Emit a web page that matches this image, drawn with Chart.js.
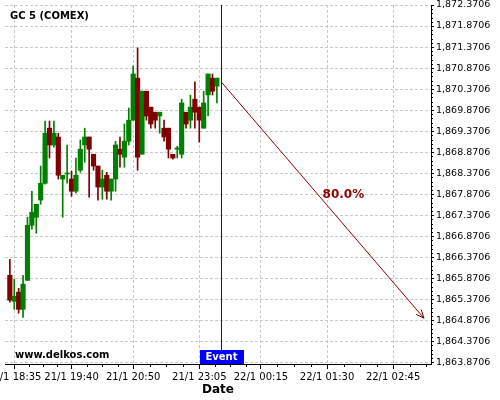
<!DOCTYPE html>
<html lang="en">
<head>
<meta charset="UTF-8">
<title>GC 5 (COMEX)</title>
<script src="https://cdn.jsdelivr.net/npm/chart.js"></script>
<style>
  html, body { margin: 0; padding: 0; background: #fff; }
</style>
</head>
<body>
<canvas id="graphique" width="500" height="400"></canvas>
<script>
// 5 min candles, index 0 = 21/1 18:30
const opens  = [1865.94,1865.32,1865.54,1865.13,1865.82,1867.13,1867.32,1867.73,1868.13,1869.44,1869.04,1869.23,1868.23,1868.35,1868.23,1867.94,1868.44,1869.04,1869.23,1868.82,1868.54,1868.04,1868.32,1867.94,1868.23,1868.94,1868.75,1869.13,1869.63,1870.63,1868.82,1870.32,1869.94,1869.82,1869.73,1869.44,1869.44,1868.82,1868.94,1868.82,1869.82,1869.63,1870.13,1869.94,1869.44,1870.23,1870.63,1870.44];
const highs  = [1866.32,1865.85,1865.63,1865.94,1867.32,1867.94,1867.63,1868.54,1869.61,1869.61,1869.61,1869.32,1868.32,1869.04,1868.42,1868.73,1869.16,1869.44,1869.23,1868.82,1868.54,1868.44,1868.39,1868.23,1869.13,1869.23,1869.54,1869.92,1870.92,1871.35,1870.32,1870.32,1869.94,1869.82,1869.82,1869.63,1869.44,1868.82,1869.01,1870.13,1869.82,1870.23,1870.54,1869.94,1870.32,1870.73,1870.73,1870.63];
const lows   = [1865.30,1865.13,1865.04,1864.94,1865.82,1867.04,1866.94,1867.63,1868.11,1868.73,1868.99,1868.23,1867.32,1868.13,1867.82,1867.90,1868.39,1868.63,1867.80,1868.44,1867.73,1867.75,1867.75,1867.73,1867.94,1868.51,1868.51,1869.04,1869.63,1868.44,1868.82,1869.63,1869.44,1869.44,1869.32,1869.13,1868.73,1868.70,1868.73,1868.73,1869.44,1869.44,1869.44,1869.11,1869.44,1869.73,1870.23,1870.04];
const closes = [1865.35,1865.44,1865.13,1865.73,1867.13,1867.44,1867.63,1868.13,1869.32,1869.04,1869.32,1868.32,1868.32,1868.37,1867.94,1868.32,1868.94,1869.23,1868.94,1868.54,1868.04,1868.23,1867.94,1868.23,1869.04,1868.82,1869.13,1869.63,1870.73,1868.75,1870.32,1869.73,1869.54,1869.63,1869.82,1869.23,1868.94,1868.73,1868.97,1870.04,1869.54,1869.94,1869.82,1869.63,1870.04,1870.73,1870.32,1870.63];

const xTickIdx    = [1, 14, 28, 43, 57, 72, 87];
const xTickLabels = ['21/1 18:35', '21/1 19:40', '21/1 20:50', '21/1 23:05', '22/1 00:15', '22/1 01:30', '22/1 02:45'];
const yTicks = [1863.8706,1864.3706,1864.8706,1865.3706,1865.8706,1866.3706,1866.8706,1867.3706,1867.8706,1868.3706,1868.8706,1869.3706,1869.8706,1870.3706,1870.8706,1871.3706,1871.8706,1872.3706];

const eventIdx = 48;
const forecast = [{x: 48, y: 1870.54}, {x: 94, y: 1864.92}];
const forecastLabel = '80.0%';

const UP = '#008000', DOWN = '#800000', ARROW = '#8b0000';
const colors = opens.map((o, i) => closes[i] >= o ? UP : DOWN);

Chart.defaults.font.family = 'DejaVu Sans';

const extras = {
    id: 'extras',
    afterDraw(chart) {
        const { ctx, chartArea: a, scales: { x, y } } = chart;
        ctx.save();
        ctx.strokeStyle = '#000';
        ctx.lineWidth = 1;
        ctx.beginPath();
        // minor ticks, y axis
        for (let k = 0; k < yTicks.length - 1; k++) {
            for (let m = 1; m < 5; m++) {
                const py = Math.round(y.getPixelForValue(yTicks[k] + m * 0.1)) + 0.5;
                ctx.moveTo(a.right, py);
                ctx.lineTo(a.right + 2, py);
            }
        }
        // minor ticks, x axis
        const minors = [];
        for (let k = 0; k < xTickIdx.length - 1; k++) {
            const step = (xTickIdx[k + 1] - xTickIdx[k]) / 4;
            for (let m = 1; m < 4; m++) minors.push(xTickIdx[k] + m * step);
        }
        const last = xTickIdx[xTickIdx.length - 1];
        for (let v = last + 15 / 4; v < x.max; v += 15 / 4) minors.push(v);
        minors.forEach(v => {
            const px = Math.round(x.getPixelForValue(v)) + 0.5;
            ctx.moveTo(px, a.bottom);
            ctx.lineTo(px, a.bottom + 3);
        });
        ctx.stroke();

        // event line + box
        const ex = Math.round(x.getPixelForValue(eventIdx)) + 0.5;
        ctx.strokeStyle = '#0000ff';
        ctx.beginPath();
        ctx.moveTo(ex, a.top);
        ctx.lineTo(ex, a.bottom - 14);
        ctx.stroke();
        ctx.fillStyle = '#0000ff';
        ctx.fillRect(Math.round(ex) - 22, a.bottom - 14, 44, 14);
        ctx.fillStyle = '#fff';
        ctx.font = 'bold 10px "DejaVu Sans"';
        ctx.textAlign = 'center';
        ctx.textBaseline = 'middle';
        ctx.fillText('Event', ex, a.bottom - 7);

        // arrow head
        const p0 = { x: x.getPixelForValue(forecast[0].x), y: y.getPixelForValue(forecast[0].y) };
        const p1 = { x: x.getPixelForValue(forecast[1].x), y: y.getPixelForValue(forecast[1].y) };
        const ang = Math.atan2(p1.y - p0.y, p1.x - p0.x);
        ctx.strokeStyle = ARROW;
        ctx.beginPath();
        [-0.4, 0.4].forEach(d => {
            ctx.moveTo(p1.x, p1.y);
            ctx.lineTo(p1.x - 9 * Math.cos(ang + d), p1.y - 9 * Math.sin(ang + d));
        });
        ctx.stroke();

        // probability label
        const t = 0.47;
        ctx.fillStyle = ARROW;
        ctx.font = 'bold 12px "DejaVu Sans"';
        ctx.textAlign = 'left';
        ctx.textBaseline = 'alphabetic';
        ctx.fillText(forecastLabel, p0.x + t * (p1.x - p0.x) + 6, p0.y + t * (p1.y - p0.y) + 5);

        // title and watermark
        ctx.fillStyle = '#000';
        ctx.font = 'bold 10px "DejaVu Sans"';
        ctx.fillText('GC 5 (COMEX)', 10, 19);
        ctx.fillText('www.delkos.com', 15, 358);
        ctx.restore();
    }
};

const ctx = document.getElementById('graphique').getContext('2d');
new Chart(ctx, {
    type: 'bar',
    data: {
        datasets: [
            {
                label: 'body',
                data: opens.map((o, i) => ({ x: i, y: [o, closes[i]] })),
                backgroundColor: colors,
                barThickness: 4.5,
                minBarLength: 1,
                grouped: false,
                order: 1
            },
            {
                label: 'wick',
                data: lows.map((l, i) => ({ x: i, y: [l, highs[i]] })),
                backgroundColor: colors,
                barThickness: 1,
                grouped: false,
                order: 2
            },
            {
                type: 'line',
                label: 'forecast',
                data: forecast,
                borderColor: ARROW,
                borderWidth: 1,
                pointRadius: 0,
                order: 0
            }
        ]
    },
    options: {
        responsive: false,
        animation: false,
        layout: { padding: { left: 5, top: 5, right: 0, bottom: 0 } },
        plugins: { legend: { display: false }, tooltip: { enabled: false } },
        scales: {
            x: {
                type: 'linear',
                position: 'bottom',
                offset: false,
                min: -1.1,
                max: 95.6,
                afterBuildTicks: s => { s.ticks = xTickIdx.map(v => ({ value: v })); },
                afterFit: s => { s.height = 36; s.paddingLeft = 0; s.paddingRight = 0; },
                ticks: {
                    autoSkip: false,
                    maxRotation: 0,
                    padding: 2,
                    color: '#000',
                    font: { size: 10 },
                    callback: v => xTickLabels[xTickIdx.indexOf(v)] ?? ''
                },
                grid: { offset: false, color: '#c8c8c8', tickColor: '#000', tickLength: 5, tickBorderDash: [] },
                border: { display: true, color: '#000', width: 1, dash: [3, 2] },
                title: { display: true, text: 'Date', color: '#000', font: { size: 12, weight: 'bold' }, padding: { top: 0, bottom: 3 } }
            },
            y: {
                type: 'linear',
                position: 'right',
                min: 1863.83,
                max: 1872.3706,
                afterBuildTicks: s => { s.ticks = yTicks.map(v => ({ value: v })); },
                afterFit: s => { s.width = 69; s.paddingTop = 0; s.paddingBottom = 0; },
                ticks: {
                    autoSkip: false,
                    padding: 2,
                    color: '#000',
                    font: { size: 9.5 },
                    callback: v => v.toLocaleString('en-US', { minimumFractionDigits: 4, maximumFractionDigits: 4 })
                },
                grid: { color: '#c8c8c8', tickColor: '#000', tickLength: 3, tickBorderDash: [] },
                border: { display: true, color: '#000', width: 1, dash: [3, 2] }
            }
        }
    },
    plugins: [extras]
});
</script>
</body>
</html>
